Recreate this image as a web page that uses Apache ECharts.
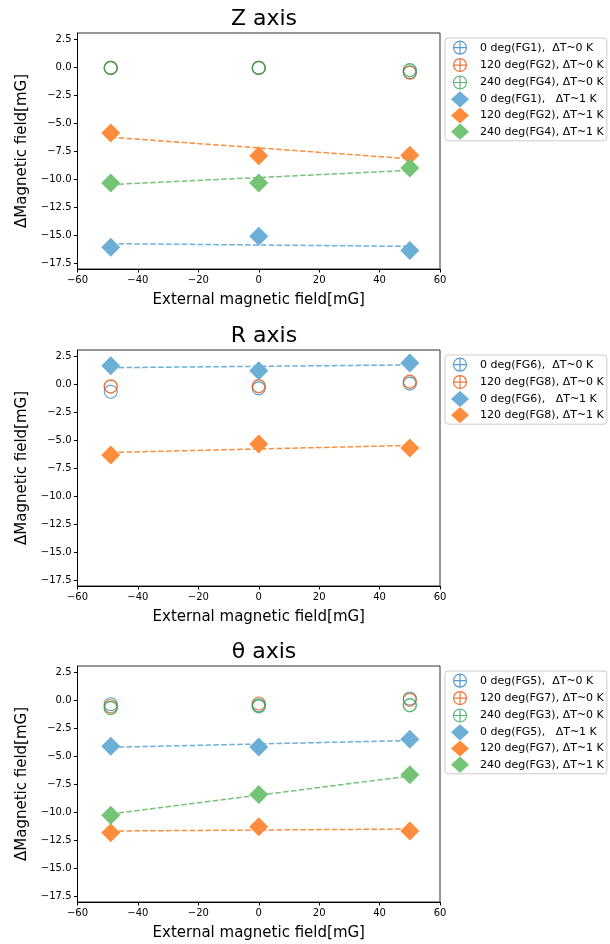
<!DOCTYPE html>
<html>
<head>
<meta charset="utf-8">
<script src="https://cdn.jsdelivr.net/npm/echarts@6/dist/echarts.min.js"></script>
<style>
    html, body { margin: 0; padding: 0; background: #fff; }
    #main { width: 610px; height: 944px; }
</style>
</head>
<body>
<div id="main"></div>
<script>
// x positions of the measurements and of the fit line ends
var fieldX = [-49, 0, 50];
var fitX = [-49, 50];
var yTicks = [2.5, 0, -2.5, -5, -7.5, -10, -12.5, -15, -17.5];

// Z axis (FG1 / FG2 / FG4)
var zOpen0 = [-0.06, -0.06, -0.45];
var zOpen120 = [-0.06, -0.06, -0.5];
var zOpen240 = [-0.06, -0.06, -0.27];
var zDia0 = [-16.07, -15.09, -16.34];
var zDia120 = [-5.87, -7.89, -7.86];
var zDia240 = [-10.33, -10.33, -8.99];
var zFit0 = [-15.74, -15.98];
var zFit120 = [-6.25, -8.17];
var zFit240 = [-10.47, -9.2];
var zNames = ['0 deg(FG1),  ΔT~0 K', '120 deg(FG2), ΔT~0 K', '240 deg(FG4), ΔT~0 K',
    '0 deg(FG1),   ΔT~1 K', '120 deg(FG2), ΔT~1 K', '240 deg(FG4), ΔT~1 K'];

// R axis (FG6 / FG8)
var rOpen0 = [-0.67, -0.37, 0.05];
var rOpen120 = [-0.2, -0.18, 0.22];
var rDia0 = [1.65, 1.2, 1.89];
var rDia120 = [-6.32, -5.34, -5.7];
var rFit0 = [1.47, 1.72];
var rFit120 = [-6.09, -5.46];
var rNames = ['0 deg(FG6),  ΔT~0 K', '120 deg(FG8), ΔT~0 K',
    '0 deg(FG6),   ΔT~1 K', '120 deg(FG8), ΔT~1 K'];

// theta axis (FG5 / FG7 / FG3)
var tOpen0 = [-0.36, -0.45, 0.15];
var tOpen120 = [-0.54, -0.3, 0.03];
var tOpen240 = [-0.69, -0.54, -0.45];
var tDia0 = [-4.1, -4.17, -3.48];
var tDia120 = [-11.82, -11.28, -11.67];
var tDia240 = [-10.27, -8.42, -6.64];
var tFit0 = [-4.2, -3.6];
var tFit120 = [-11.67, -11.49];
var tFit240 = [-10.15, -6.76];
var tNames = ['0 deg(FG5),  ΔT~0 K', '120 deg(FG7), ΔT~0 K', '240 deg(FG3), ΔT~0 K',
    '0 deg(FG5),   ΔT~1 K', '120 deg(FG7), ΔT~1 K', '240 deg(FG3), ΔT~1 K'];

var openColors = ['#3182bd', '#e6550d', '#31a354'];
var diaColors = ['#6baed6', '#fd8d3c', '#74c476'];
var font = 'DejaVu Sans';
// circle with cross, with two empty points so the icon keeps a margin
var crossIcon = 'path://M-1.5,-1.5L-1.5,-1.5M23.5,23.5L23.5,23.5M1,11A10,10 0 1,1 21,11A10,10 0 1,1 1,11ZM11,1L11,21M1,11L21,11';

function pairs(xs, ys) {
    var out = [];
    for (var i = 0; i < xs.length; i++) {
        out.push([xs[i], ys[i]]);
    }
    return out;
}
function minus(s) {
    return String(s).replace('-', '\u2212');
}

var panels = [
    {title: 'Z axis', top: 33, open: [zOpen0, zOpen120, zOpen240], dia: [zDia0, zDia120, zDia240], fit: [zFit0, zFit120, zFit240], names: zNames},
    {title: 'R axis', top: 350, open: [rOpen0, rOpen120], dia: [rDia0, rDia120], fit: [rFit0, rFit120], names: rNames},
    {title: 'θ axis', top: 666, open: [tOpen0, tOpen120, tOpen240], dia: [tDia0, tDia120, tDia240], fit: [tFit0, tFit120, tFit240], names: tNames}
];

var option = {
    animation: false,
    backgroundColor: '#fff',
    title: [], grid: [], xAxis: [], yAxis: [], legend: [], series: []
};

panels.forEach(function (p, k) {
    var n = p.open.length;
    option.title.push({
        text: p.title, left: 259, top: p.top - 30, textAlign: 'center',
        textStyle: {fontFamily: font, fontSize: 22, fontWeight: 'normal', color: '#000'}
    });
    option.grid.push({
        left: 77.5, top: p.top, width: 362.5, height: 236,
        show: true, borderColor: '#333', borderWidth: 1, backgroundColor: 'transparent'
    });
    option.xAxis.push({
        type: 'value', gridIndex: k, min: -60, max: 60, interval: 20,
        name: 'External magnetic field[mG]', nameLocation: 'middle', nameGap: 24,
        nameTextStyle: {fontFamily: font, fontSize: 15, color: '#000'},
        axisLine: {onZero: false, lineStyle: {color: '#000', width: 1}},
        axisTick: {length: 3.5, lineStyle: {color: '#000'}},
        axisLabel: {fontFamily: font, fontSize: 10, color: '#000', margin: 6, formatter: minus},
        splitLine: {show: false}
    });
    option.yAxis.push({
        type: 'value', gridIndex: k, min: -18, max: 3.05,
        name: 'ΔMagnetic field[mG]', nameLocation: 'middle', nameGap: 45,
        nameTextStyle: {fontFamily: font, fontSize: 15, color: '#000'},
        axisLine: {onZero: false, lineStyle: {color: '#000', width: 1}},
        axisTick: {length: 3.5, lineStyle: {color: '#000'}, customValues: yTicks},
        axisLabel: {fontFamily: font, fontSize: 10, color: '#000', margin: 6, customValues: yTicks,
            formatter: function (v) { return minus(Number(v).toFixed(1)); }},
        splitLine: {show: false}
    });

    var legendData = [];
    for (var i = 0; i < n; i++) {
        legendData.push({
            name: p.names[i], icon: crossIcon,
            itemStyle: {color: 'transparent', borderColor: openColors[i], borderWidth: 1.2}
        });
    }
    for (var j = 0; j < n; j++) {
        legendData.push({name: p.names[n + j], icon: 'diamond'});
    }
    option.legend.push({
        orient: 'vertical', left: 445, top: p.top + 5,
        data: legendData,
        backgroundColor: '#fff', borderColor: '#ccc', borderWidth: 1, borderRadius: 3,
        padding: [1, 3, 1, 6], itemGap: 0, itemWidth: 18, itemHeight: 16.2,
        selectedMode: false,
        textStyle: {fontFamily: font, fontSize: 11, color: '#000', padding: [0, 0, 0, 6]}
    });

    for (var a = 0; a < n; a++) {
        option.series.push({
            name: 'fit ' + k + '-' + a, type: 'line', xAxisIndex: k, yAxisIndex: k,
            data: pairs(fitX, p.fit[a]), symbol: 'none', z: 2, silent: true,
            lineStyle: {color: diaColors[a], width: 1.5, type: [5.5, 2.4]}
        });
    }
    for (var b = 0; b < n; b++) {
        option.series.push({
            name: p.names[b], type: 'scatter', xAxisIndex: k, yAxisIndex: k,
            data: pairs(fieldX, p.open[b]), symbol: 'circle', symbolSize: 13, z: 3,
            itemStyle: {color: 'transparent', borderColor: openColors[b],
                borderWidth: b === n - 1 ? 1.4 : 1.1}
        });
    }
    for (var c = 0; c < n; c++) {
        option.series.push({
            name: p.names[n + c], type: 'scatter', xAxisIndex: k, yAxisIndex: k,
            data: pairs(fieldX, p.dia[c]), symbol: 'diamond', symbolSize: 19, z: 4,
            itemStyle: {color: diaColors[c], opacity: 1}
        });
    }
});

var myChart = echarts.init(document.getElementById('main'), null, {renderer: 'canvas'});
myChart.setOption(option);
</script>
</body>
</html>
